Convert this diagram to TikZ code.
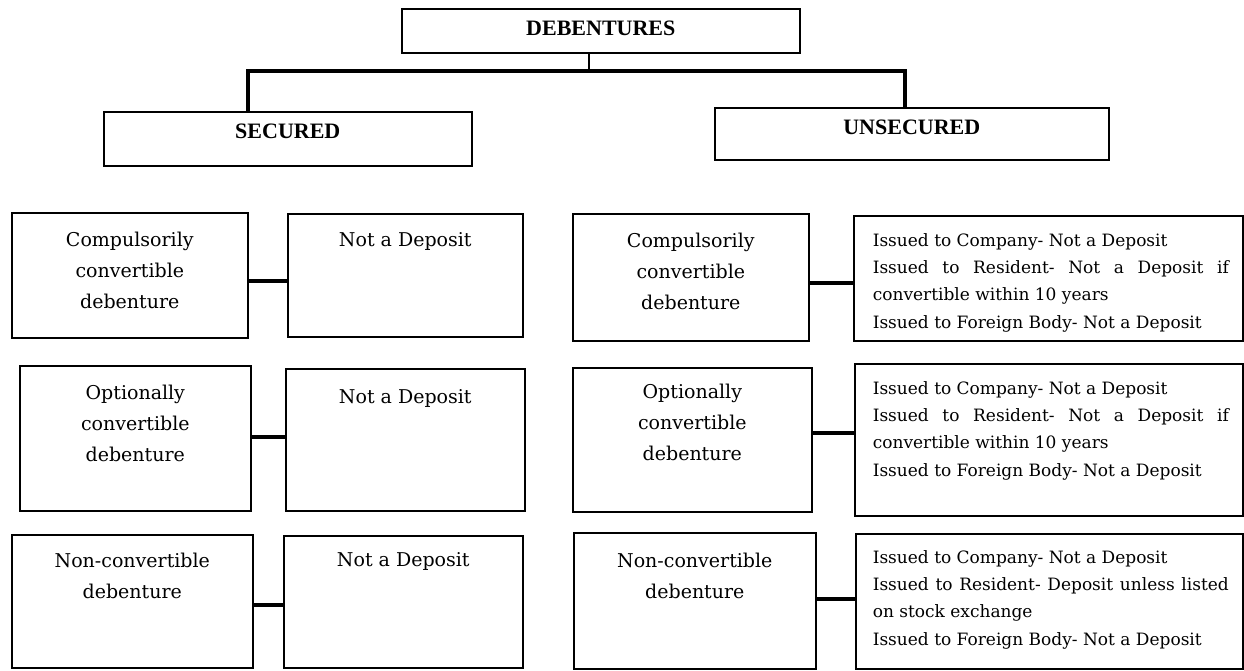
\documentclass[tikz,border=0pt]{standalone}
\usepackage{fontspec}
\setmainfont{DejaVu Serif}
\newfontfamily\headfont{Liberation Serif}

\begin{document}
\begin{tikzpicture} [x = 1pt, y = -1pt, line width = 1.6pt,
        box/.style = {draw, rectangle, anchor = north west, inner sep = 0pt},
        head/.style = {anchor = north, inner sep = 0pt, font = \headfont\bfseries\fontsize{22}{26}\selectfont},
        kind/.style = {anchor = north, inner sep = 0pt, align = center, font = \fontsize{19}{31}\selectfont},
        note/.style = {anchor = north west, inner sep = 0pt, text width = 356pt, align = justify, font = \fontsize{17}{27.3}\selectfont},
        tree/.style = {line width = 3.5pt},
        link/.style = {line width = 3.5pt}]
        \useasboundingbox (0, 0) rectangle (1244, 670);

        % top of the tree
        \node [box, minimum width = 398pt, minimum height = 44pt, label = {[head, yshift = -12pt] north:DEBENTURES}] (deb) at (401, 8) {};
        \node [box, minimum width = 368pt, minimum height = 54pt, label = {[head, yshift = -12pt] north:SECURED}] (sec) at (103, 111) {};
        \node [box, minimum width = 394pt, minimum height = 52pt, label = {[head, yshift = -12pt] north:UNSECURED}] (unsec) at (714, 107) {};

        \coordinate (fork) at (589, 71);
        \draw [line width = 2.5pt] (fork |- deb.south) -- (fork);
        \draw [tree] ([xshift = -40pt] sec.north) -- ++(0, -40) -| ([xshift = -7pt] unsec.north);

        % secured side
        \node [box, minimum width = 236pt, minimum height = 125pt, label = {[kind, yshift = -19pt] north:{Compulsorily\\convertible\\debenture}}] (sl1) at (11, 212) {};
        \node [box, minimum width = 235pt, minimum height = 123pt, label = {[kind, yshift = -19pt] north:{Not a Deposit}}] (sr1) at (287, 213) {};

        \node [box, minimum width = 231pt, minimum height = 145pt, label = {[kind, yshift = -19pt] north:{Optionally\\convertible\\debenture}}] (sl2) at (19, 365) {};
        \node [box, minimum width = 239pt, minimum height = 142pt, label = {[kind, yshift = -21pt] north:{Not a Deposit}}] (sr2) at (285, 368) {};

        \node [box, minimum width = 241pt, minimum height = 133pt, label = {[kind, yshift = -18pt] north:{Non-convertible\\debenture}}] (sl3) at (11, 534) {};
        \node [box, minimum width = 239pt, minimum height = 132pt, label = {[kind, yshift = -17pt] north:{Not a Deposit}}] (sr3) at (283, 535) {};

        \path [link] (sl1.east |- 0, 281) edge (sr1.west |- 0, 281);
        \path [link] (sl2.east |- 0, 437) edge (sr2.west |- 0, 437);
        \path [link] (sl3.east |- 0, 605) edge (sr3.west |- 0, 605);

        % unsecured side
        \node [box, minimum width = 236pt, minimum height = 127pt, label = {[kind, yshift = -19pt] north:{Compulsorily\\convertible\\debenture}}] (ul1) at (572, 213) {};
        \node [box, minimum width = 389pt, minimum height = 125pt, label = {[note, xshift = 19pt, yshift = -17.5pt] north west:{Issued to Company- Not a Deposit\\ Issued to Resident- Not a Deposit if\linebreak convertible within 10 years\\ Issued to Foreign Body- Not a Deposit}}] (ur1) at (853, 215) {};

        \node [box, minimum width = 239pt, minimum height = 144pt, label = {[kind, yshift = -16pt] north:{Optionally\\convertible\\debenture}}] (ul2) at (572, 367) {};
        \node [box, minimum width = 388pt, minimum height = 152pt, label = {[note, xshift = 18pt, yshift = -17.5pt] north west:{Issued to Company- Not a Deposit\\ Issued to Resident- Not a Deposit if\linebreak convertible within 10 years\\ Issued to Foreign Body- Not a Deposit}}] (ur2) at (854, 363) {};

        \node [box, minimum width = 242pt, minimum height = 136pt, label = {[kind, yshift = -20pt] north:{Non-convertible\\debenture}}] (ul3) at (573, 532) {};
        \node [box, minimum width = 387pt, minimum height = 135pt, label = {[note, xshift = 17pt, yshift = -16.5pt] north west:{Issued to Company- Not a Deposit\\ Issued to Resident- Deposit unless listed\linebreak on stock exchange\\ Issued to Foreign Body- Not a Deposit}}] (ur3) at (855, 533) {};

        \path [link] (ul1.east |- 0, 283) edge (ur1.west |- 0, 283);
        \path [link] (ul2.east |- 0, 433) edge (ur2.west |- 0, 433);
        \path [link] (ul3.east |- 0, 599) edge (ur3.west |- 0, 599);

    \end{tikzpicture}
\end{document}
